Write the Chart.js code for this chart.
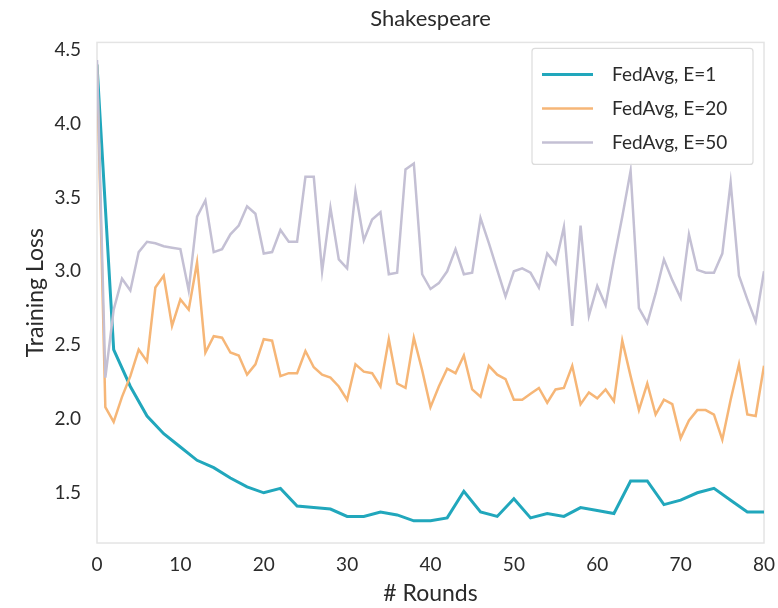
<!DOCTYPE html>
<html>
<head>
<meta charset="utf-8">
<script src="https://cdn.jsdelivr.net/npm/chart.js@4.4.0/dist/chart.umd.min.js"></script>
<style>
    html, body { margin: 0; padding: 0; background: #fff; }
</style>
</head>
<body>
<canvas id="myChart" width="778" height="608"></canvas>
<script>
const rounds = [0, 1, 2, 3, 4, 5, 6, 7, 8, 9, 10, 11, 12, 13, 14, 15, 16, 17, 18, 19, 20,
    21, 22, 23, 24, 25, 26, 27, 28, 29, 30, 31, 32, 33, 34, 35, 36, 37, 38, 39, 40,
    41, 42, 43, 44, 45, 46, 47, 48, 49, 50, 51, 52, 53, 54, 55, 56, 57, 58, 59, 60,
    61, 62, 63, 64, 65, 66, 67, 68, 69, 70, 71, 72, 73, 74, 75, 76, 77, 78, 79, 80];
const roundsE1 = [0, 2, 4, 6, 8, 10, 12, 14, 16, 18, 20, 22, 24, 26, 28, 30, 32, 34, 36, 38, 40,
    42, 44, 46, 48, 50, 52, 54, 56, 58, 60, 62, 64, 66, 68, 70, 72, 74, 76, 78, 80];

const lossE1 = [4.40, 2.47, 2.22, 2.02, 1.90, 1.81, 1.72, 1.67, 1.60, 1.54, 1.50,
    1.53, 1.41, 1.40, 1.39, 1.34, 1.34, 1.37, 1.35, 1.31, 1.31,
    1.33, 1.51, 1.37, 1.34, 1.46, 1.33, 1.36, 1.34, 1.40, 1.38,
    1.36, 1.58, 1.58, 1.42, 1.45, 1.50, 1.53, 1.45, 1.37, 1.37];
const lossE20 = [4.40, 2.08, 1.98, 2.15, 2.29, 2.47, 2.39, 2.89, 2.97, 2.63, 2.81,
    2.74, 3.06, 2.45, 2.56, 2.55, 2.45, 2.43, 2.30, 2.37, 2.54,
    2.53, 2.29, 2.31, 2.31, 2.46, 2.35, 2.30, 2.28, 2.22, 2.13,
    2.37, 2.32, 2.31, 2.22, 2.54, 2.24, 2.21, 2.55, 2.33, 2.08,
    2.22, 2.34, 2.31, 2.43, 2.20, 2.15, 2.36, 2.30, 2.27, 2.13,
    2.13, 2.17, 2.21, 2.11, 2.20, 2.21, 2.36, 2.10, 2.18, 2.14,
    2.20, 2.12, 2.53, 2.29, 2.06, 2.24, 2.03, 2.13, 2.10, 1.87,
    1.99, 2.06, 2.06, 2.03, 1.86, 2.13, 2.37, 2.03, 2.02, 2.36];
const lossE50 = [4.43, 2.28, 2.74, 2.95, 2.87, 3.13, 3.20, 3.19, 3.17, 3.16, 3.15,
    2.87, 3.37, 3.48, 3.13, 3.15, 3.25, 3.31, 3.44, 3.39, 3.12,
    3.13, 3.28, 3.20, 3.20, 3.64, 3.64, 3.00, 3.43, 3.08, 3.02,
    3.54, 3.21, 3.35, 3.40, 2.98, 2.99, 3.69, 3.73, 2.98, 2.88,
    2.92, 3.00, 3.15, 2.98, 2.99, 3.36, 3.19, 3.01, 2.83, 3.00,
    3.02, 2.99, 2.89, 3.12, 3.05, 3.30, 2.63, 3.31, 2.70, 2.90,
    2.77, 3.08, 3.37, 3.68, 2.75, 2.65, 2.85, 3.08, 2.94, 2.82,
    3.25, 3.01, 2.99, 2.99, 3.12, 3.60, 2.97, 2.81, 2.66, 3.00];

const seriesLabels = ['FedAvg, E=1', 'FedAvg, E=20', 'FedAvg, E=50'];
const xTicks = [0, 10, 20, 30, 40, 50, 60, 70, 80];
const yTicks = [1.5, 2.0, 2.5, 3.0, 3.5, 4.0, 4.5];

const FONT = 'Lato, "Open Sans", sans-serif';
const TEXT = '#2b2b2b';

function pairs(xs, ys) {
    return ys.map((y, i) => ({ x: xs[i], y: y }));
}

// light box round the plot area
const frame = {
    id: 'frame',
    beforeDatasetsDraw(chart) {
        const { ctx, chartArea: a } = chart;
        ctx.save();
        ctx.strokeStyle = '#e4e4e4';
        ctx.lineWidth = 1.5;
        ctx.strokeRect(a.left, a.top, a.right - a.left, a.bottom - a.top);
        ctx.restore();
    }
};

// legend box in the upper right corner
const boxLegend = {
    id: 'boxLegend',
    afterDraw(chart) {
        const { ctx, chartArea: a } = chart;
        const right = a.right - 11, top = a.top + 6;
        const w = 221, h = 116;
        const left = right - w;
        ctx.save();
        ctx.fillStyle = 'rgba(255,255,255,0.9)';
        ctx.strokeStyle = '#dcdcdc';
        ctx.lineWidth = 1.2;
        ctx.beginPath();
        ctx.roundRect(left, top, w, h, 3);
        ctx.fill();
        ctx.stroke();
        ctx.font = '19px ' + FONT;
        ctx.textBaseline = 'middle';
        chart.data.datasets.forEach((ds, i) => {
            const y = top + 26 + i * 34;
            ctx.strokeStyle = ds.borderColor;
            ctx.lineWidth = ds.borderWidth;
            ctx.beginPath();
            ctx.moveTo(left + 10, y);
            ctx.lineTo(left + 61, y);
            ctx.stroke();
            ctx.fillStyle = TEXT;
            ctx.fillText(ds.label, left + 80, y);
        });
        ctx.restore();
    }
};

const ctx = document.getElementById('myChart').getContext('2d');

const myChart = new Chart(ctx, {
    type: 'line',
    data: {
        datasets: [{
            label: seriesLabels[0],
            data: pairs(roundsE1, lossE1),
            borderColor: '#21a7bc',
            borderWidth: 3,
            pointRadius: 0,
            tension: 0,
            order: 3
        }, {
            label: seriesLabels[1],
            data: pairs(rounds, lossE20),
            borderColor: '#f6b677',
            borderWidth: 2.5,
            pointRadius: 0,
            tension: 0,
            order: 2
        }, {
            label: seriesLabels[2],
            data: pairs(rounds, lossE50),
            borderColor: '#c4c0d4',
            borderWidth: 2.5,
            pointRadius: 0,
            tension: 0,
            order: 1
        }]
    },
    options: {
        responsive: false,
        animation: false,
        layout: { padding: { left: 0, right: 14, top: 0, bottom: 0 } },
        scales: {
            x: {
                type: 'linear',
                min: 0,
                max: 80,
                afterBuildTicks: s => { s.ticks = xTicks.map(v => ({ value: v })); },
                afterFit: s => { s.height = 65; s.paddingLeft = 0; s.paddingRight = 0; },
                grid: { display: false, drawTicks: false },
                border: { display: false },
                ticks: {
                    padding: 10,
                    color: TEXT,
                    font: { family: FONT, size: 19 },
                    maxRotation: 0
                },
                title: {
                    display: true,
                    text: '# Rounds',
                    color: TEXT,
                    font: { family: FONT, size: 23 },
                    padding: { top: 0, bottom: 1 }
                }
            },
            y: {
                min: 1.16,
                max: 4.55,
                afterBuildTicks: s => { s.ticks = yTicks.map(v => ({ value: v })); },
                afterFit: s => { s.width = 97; },
                grid: { display: false, drawTicks: false },
                border: { display: false },
                ticks: {
                    padding: 16,
                    color: TEXT,
                    font: { family: FONT, size: 19 },
                    callback: v => v.toFixed(1)
                },
                title: {
                    display: true,
                    text: 'Training Loss',
                    color: TEXT,
                    font: { family: FONT, size: 23 },
                    padding: { top: 22, bottom: 0 }
                }
            }
        },
        plugins: {
            legend: { display: false },
            tooltip: { enabled: false },
            title: {
                display: true,
                text: 'Shakespeare',
                fullSize: false,
                color: TEXT,
                font: { family: FONT, size: 22, weight: 'normal' },
                padding: { top: 6, bottom: 10 }
            }
        }
    },
    plugins: [frame, boxLegend]
});
</script>
</body>
</html>
